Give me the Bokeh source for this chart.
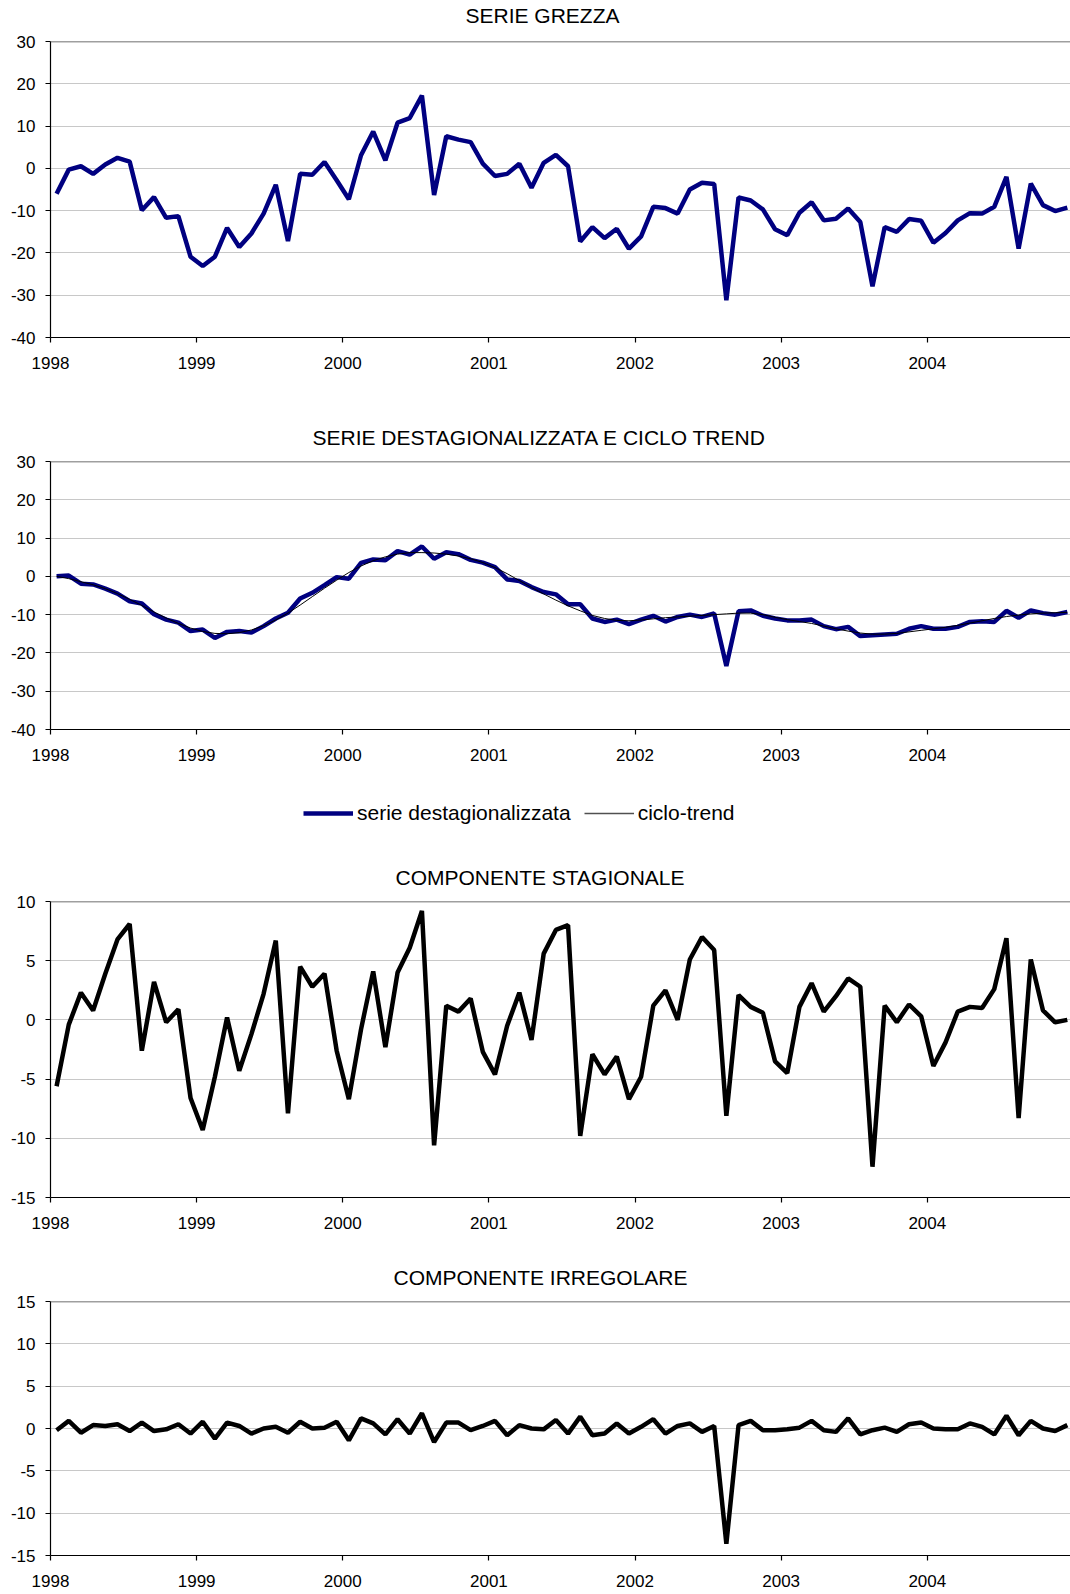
from bokeh.plotting import figure
from bokeh.models import Range1d, FixedTicker, Span, Legend, LegendItem
from bokeh.layouts import column
from bokeh.embed import file_html
from bokeh.resources import INLINE

FONT = "Liberation Sans"
NAVY = "#000080"

years = ["1998", "1999", "2000", "2001", "2002", "2003", "2004"]

serie_grezza = [
    -6.0, -0.3, 0.5, -1.3, 0.9, 2.5, 1.6, -9.9, -6.8, -11.7, -11.3, -20.9,
    -23.1, -20.9, -14.1, -18.6, -15.4, -10.7, -3.9, -17.2, -1.3, -1.5, 1.5, -2.8,
    -7.3, 3.1, 8.7, 1.9, 10.8, 11.9, 17.2, -6.3, 7.6, 6.8, 6.2, 1.1,
    -1.8, -1.3, 1.1, -4.6, 1.3, 3.2, 0.5, -17.3, -13.9, -16.5, -14.3, -19.0,
    -16.1, -9.1, -9.4, -10.7, -5.0, -3.4, -3.7, -31.2, -6.9, -7.6, -9.7, -14.4,
    -15.8, -10.5, -8.0, -12.3, -11.9, -9.5, -12.7, -27.9, -13.9, -15.0, -12.0, -12.4,
    -17.6, -15.3, -12.3, -10.6, -10.7, -9.1, -2.0, -19.0, -3.6, -8.7, -10.1, -9.3,
]

serie_destag = [
    0.0, 0.2, -1.9, -2.1, -3.2, -4.5, -6.5, -7.1, -9.9, -11.3, -12.1, -14.3,
    -13.9, -16.1, -14.5, -14.3, -14.7, -13.0, -11.0, -9.5, -5.8, -4.3, -2.3, -0.2,
    -0.6, 3.5, 4.4, 4.2, 6.6, 5.7, 7.8, 4.6, 6.3, 5.8, 4.3, 3.6,
    2.4, -0.8, -1.2, -2.8, -4.1, -4.7, -7.3, -7.3, -11.0, -11.9, -11.3, -12.5,
    -11.3, -10.3, -11.8, -10.6, -10.0, -10.6, -9.7, -23.4, -9.1, -8.9, -10.3, -11.0,
    -11.5, -11.5, -11.3, -13.0, -13.8, -13.2, -15.6, -15.4, -15.2, -15.0, -13.7, -13.0,
    -13.7, -13.7, -13.2, -11.9, -11.7, -11.9, -9.0, -10.8, -8.9, -9.6, -10.0, -9.3,
]

ciclo_trend = [
    0.0, -0.6, -1.4, -2.2, -3.2, -4.5, -6.0, -7.6, -9.3, -10.9, -12.3, -13.5,
    -14.4, -14.9, -15.0, -14.7, -14.0, -12.9, -11.4, -9.6, -7.5, -5.3, -3.1, -1.0,
    1.0, 2.7, 4.1, 5.1, 5.8, 6.2, 6.2, 6.1, 5.8, 5.3, 4.6, 3.6,
    2.3, 0.7, -1.1, -2.9, -4.6, -6.2, -7.7, -9.0, -10.2, -11.0, -11.5, -11.6,
    -11.4, -11.1, -10.8, -10.6, -10.4, -10.2, -10.0, -9.8, -9.6, -9.6, -10.0, -10.7,
    -11.3, -11.8, -12.3, -13.0, -13.7, -14.3, -14.8, -15.1, -15.1, -14.9, -14.5, -14.1,
    -13.7, -13.3, -12.8, -12.2, -11.6, -11.0, -10.5, -10.1, -9.8, -9.6, -9.5, -9.4,
]

comp_stagionale = [
    -5.6, -0.4, 2.3, 0.8, 3.9, 6.8, 8.1, -2.6, 3.2, -0.2, 0.9, -6.6,
    -9.3, -4.8, 0.2, -4.3, -1.2, 2.2, 6.7, -7.9, 4.5, 2.8, 3.9, -2.6,
    -6.7, -0.8, 4.1, -2.3, 4.0, 6.1, 9.2, -10.6, 1.2, 0.7, 1.8, -2.7,
    -4.6, -0.5, 2.3, -1.7, 5.6, 7.6, 8.0, -9.8, -2.9, -4.6, -3.1, -6.7,
    -4.8, 1.2, 2.5, 0.0, 5.1, 7.0, 5.9, -8.1, 2.1, 1.1, 0.6, -3.5,
    -4.5, 1.1, 3.1, 0.7, 2.0, 3.5, 2.8, -12.4, 1.2, -0.2, 1.3, 0.3,
    -3.9, -1.9, 0.7, 1.1, 1.0, 2.6, 6.9, -8.3, 5.1, 0.8, -0.2, 0.0,
]

comp_irregolare = [
    -0.2, 0.9, -0.5, 0.4, 0.3, 0.5, -0.3, 0.7, -0.3, -0.1, 0.5, -0.6,
    0.8, -1.2, 0.7, 0.3, -0.6, 0.0, 0.2, -0.5, 0.8, 0.0, 0.1, 0.8,
    -1.4, 1.2, 0.6, -0.7, 1.1, -0.6, 1.8, -1.6, 0.7, 0.7, -0.2, 0.3,
    0.9, -0.8, 0.4, 0.0, -0.1, 1.0, -0.6, 1.4, -0.8, -0.6, 0.6, -0.6,
    0.2, 1.1, -0.6, 0.3, 0.6, -0.4, 0.3, -13.6, 0.4, 0.9, -0.2, -0.2,
    -0.1, 0.1, 0.9, -0.2, -0.4, 1.2, -0.7, -0.2, 0.1, -0.4, 0.5, 0.7,
    0.0, -0.1, -0.1, 0.6, 0.2, -0.7, 1.5, -0.8, 0.9, 0.0, -0.3, 0.4,
]

x = [i + 0.5 for i in range(len(serie_grezza))]
year_ticks = [12 * k for k in range(len(years))]
X_END = 83.76
W = 1070
LEFT = 50


def style_title(p, text, left, standoff):
    p.title.text = text
    p.title.align = "left"
    p.title.offset = left - LEFT
    p.title.standoff = standoff
    p.title.text_font = FONT
    p.title.text_font_size = "21px"
    p.title.text_font_style = "normal"
    p.title.text_color = "black"


def strip(height):
    s = figure(width=W, height=height, output_backend="svg", toolbar_location=None,
               x_range=Range1d(0, 1), y_range=Range1d(0, 1),
               x_axis_location=None, y_axis_location=None, min_border=0,
               min_border_left=LEFT, min_border_right=0)
    s.outline_line_color = None
    s.grid.visible = False
    return s


def panel(title, title_left, ylo, yhi, ystep, height, btop, bbottom):
    p = figure(width=W, height=height, output_backend="svg", toolbar_location=None,
               x_range=Range1d(0, X_END), y_range=Range1d(ylo, yhi),
               min_border_left=LEFT, min_border_right=0,
               min_border_top=btop, min_border_bottom=bbottom)
    if title:
        style_title(p, title, title_left, 26)
    p.outline_line_color = None
    p.background_fill_color = "white"
    p.border_fill_color = "white"

    yt = list(range(ylo, yhi + 1, ystep))
    p.yaxis.ticker = FixedTicker(ticks=yt)
    p.yaxis.major_label_overrides = {t: str(t) for t in yt}
    p.xaxis.ticker = FixedTicker(ticks=year_ticks)
    p.xaxis.major_label_overrides = {t: y for t, y in zip(year_ticks, years)}
    for ax in (p.xaxis, p.yaxis):
        ax.major_label_text_font = FONT
        ax.major_label_text_font_size = "17px"
        ax.major_label_text_color = "black"
        ax.axis_line_color = "black"
        ax.axis_line_width = 1.2
        ax.major_tick_line_color = "black"
        ax.major_tick_line_width = 1.2
        ax.major_tick_out = 5
        ax.major_tick_in = 0
        ax.minor_tick_out = 0
        ax.minor_tick_in = 0
    p.xaxis.major_label_standoff = 14
    p.yaxis.major_label_standoff = 10
    p.xgrid.visible = False
    p.ygrid.ticker = FixedTicker(ticks=yt)
    p.ygrid.grid_line_color = "#c8c8c8"
    p.ygrid.grid_line_width = 1
    p.add_layout(Span(location=yhi, dimension="width", line_color="#404040", line_width=1.3))
    return p


LW = 4.5

# title strip for the first panel
t1 = strip(30)
style_title(t1, "SERIE GREZZA", 465, 3)
t1.line([5, 6], [5, 6], line_alpha=0)

p1 = panel(None, 0, -40, 30, 10, 379, 11, 72)
p1.line(x, serie_grezza, line_color=NAVY, line_width=LW)

p2 = panel("SERIE DESTAGIONALIZZATA E CICLO TREND", 312, -40, 30, 10, 381, 52, 61)
p2.line(x, serie_destag, line_color=NAVY, line_width=LW)
p2.line(x, ciclo_trend, line_color="black", line_width=1)

# legend strip (dummy renderers lie outside the visible range; only their swatches show)
lf = strip(59)
d1 = lf.line([5, 6], [5, 6], line_color=NAVY, line_width=4.5)
d2 = lf.line([5, 6], [5, 6], line_color="#505050", line_width=1.3)
leg = Legend(items=[LegendItem(label="serie destagionalizzata", renderers=[d1]),
                    LegendItem(label="ciclo-trend", renderers=[d2])],
             orientation="horizontal", location=(303 - LEFT, 24),
             glyph_width=50, glyph_height=20, label_standoff=4, spacing=13,
             padding=0, margin=0, border_line_color=None,
             background_fill_alpha=0,
             label_text_font=FONT, label_text_font_size="21px", label_text_color="black")
lf.add_layout(leg)

p3 = panel("COMPONENTE STAGIONALE", 395, -15, 10, 5, 400, 52, 52)
p3.line(x, comp_stagionale, line_color="black", line_width=LW)

p4 = panel("COMPONENTE IRREGOLARE", 393, -15, 15, 5, 345, 52, 39)
p4.line(x, comp_irregolare, line_color="black", line_width=LW)

layout = column(t1, p1, p2, lf, p3, p4, spacing=0)
open("out.html", "w").write(file_html(layout, INLINE))
